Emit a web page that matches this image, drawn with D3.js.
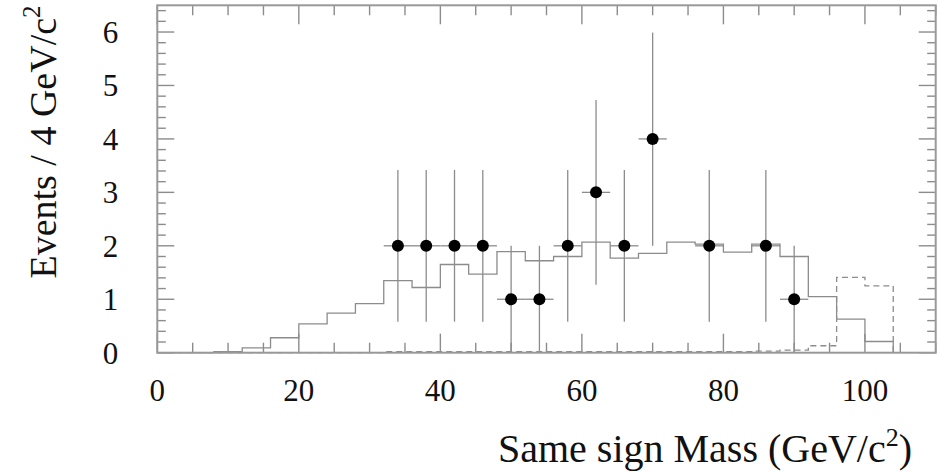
<!DOCTYPE html>
<html>
<head>
<meta charset="utf-8">
<script src="https://cdn.jsdelivr.net/npm/d3@7"></script>
<style>
  body { margin: 0; background: #fff; }
  text { font-family: "Liberation Serif", "DejaVu Serif", serif; fill: #111; }
</style>
</head>
<body>
<svg id="chart" width="941" height="473"></svg>
<script>
// data points (bin centres), counts and error bar limits
const massPoints = [34, 38, 42, 46, 50, 54, 58, 62, 66, 70, 78, 86, 90];
const counts     = [2, 2, 2, 2, 1, 1, 2, 3, 2, 4, 2, 2, 1];
const errLow     = [0.58, 0.58, 0.58, 0.58, 0, 0, 0.58, 1.27, 0.58, 2.0, 0.58, 0.58, 0];
const errHigh    = [3.42, 3.42, 3.42, 3.42, 2.0, 2.0, 3.42, 4.73, 3.42, 5.99, 3.42, 3.42, 2.0];

// 4 GeV bins starting at 0
const binEdges = d3.range(0, 108, 4);
const mcSolid  = [0, 0, 0.02, 0.09, 0.28, 0.54, 0.74, 0.92, 1.35, 1.22, 1.65, 1.47, 1.89,
                  1.72, 1.80, 2.07, 1.77, 1.86, 2.07, 2.03, 1.88, 2.03, 1.80, 1.05, 0.63, 0.21, 0];
const mcDashed = [0, 0, 0, 0, 0, 0, 0, 0, 0.02, 0.02, 0.02, 0.02, 0.02, 0.02, 0.02, 0.02,
                  0.02, 0.02, 0.02, 0.02, 0.02, 0.03, 0.05, 0.13, 1.41, 1.25, 0];

const xTicks = [0, 20, 40, 60, 80, 100];
const yTicks = [0, 1, 2, 3, 4, 5, 6];

const svg = d3.select("#chart"),
      margin = { top: 5.3, right: 5.3, bottom: 120.3, left: 157.3 },
      width = +svg.attr("width") - margin.left - margin.right,
      height = +svg.attr("height") - margin.top - margin.bottom;

const g = svg.append("g").attr("transform", `translate(${margin.left},${margin.top})`);

const x = d3.scaleLinear().domain([0, 110]).range([0, width]);
const y = d3.scaleLinear().domain([0, 6.5]).range([height, 0]);

const grey = "#8c8c8c";

// ticks on all four sides, pointing inward
const xMinor = d3.range(0, 111, 5);
const yMinor = d3.range(0, 6.5, 0.2);
const tickG = g.append("g").attr("stroke", grey).attr("stroke-width", 1.4);

xMinor.forEach(v => {
  const len = v % 20 === 0 ? 19 : 10;
  tickG.append("line").attr("x1", x(v)).attr("x2", x(v)).attr("y1", height).attr("y2", height - len);
  tickG.append("line").attr("x1", x(v)).attr("x2", x(v)).attr("y1", 0).attr("y2", len);
});
yMinor.forEach(v => {
  const major = Math.abs(v - Math.round(v)) < 1e-6;
  const len = major ? 17 : 8.5;
  tickG.append("line").attr("x1", 0).attr("x2", len).attr("y1", y(v)).attr("y2", y(v));
  tickG.append("line").attr("x1", width).attr("x2", width - len).attr("y1", y(v)).attr("y2", y(v));
});

// histograms
const step = d3.line()
  .x(d => x(d[0]))
  .y(d => y(d[1]))
  .curve(d3.curveStepAfter);

g.append("path")
  .datum(binEdges.map((e, i) => [e, mcDashed[i]]))
  .attr("d", step)
  .attr("fill", "none")
  .attr("stroke", grey)
  .attr("stroke-width", 1.3)
  .attr("stroke-dasharray", "6,4");

g.append("path")
  .datum(binEdges.map((e, i) => [e, mcSolid[i]]))
  .attr("d", step)
  .attr("fill", "none")
  .attr("stroke", grey)
  .attr("stroke-width", 1.3);

// error bars
const pts = massPoints.map((m, i) => ({ m, n: counts[i], lo: errLow[i], hi: errHigh[i] }));

g.selectAll(".vbar")
  .data(pts)
  .enter().append("line")
  .attr("class", "vbar")
  .attr("x1", d => x(d.m)).attr("x2", d => x(d.m))
  .attr("y1", d => y(d.lo)).attr("y2", d => y(d.hi))
  .attr("stroke", grey).attr("stroke-width", 1.3);

g.selectAll(".hbar")
  .data(pts)
  .enter().append("line")
  .attr("class", "hbar")
  .attr("x1", d => x(d.m - 2)).attr("x2", d => x(d.m + 2))
  .attr("y1", d => y(d.n)).attr("y2", d => y(d.n))
  .attr("stroke", grey).attr("stroke-width", 1.3);

g.selectAll(".dot")
  .data(pts)
  .enter().append("circle")
  .attr("class", "dot")
  .attr("cx", d => x(d.m))
  .attr("cy", d => y(d.n))
  .attr("r", 6)
  .attr("fill", "#000");

// frame
g.append("rect")
  .attr("width", width).attr("height", height)
  .attr("fill", "none")
  .attr("stroke", "#999").attr("stroke-width", 2);

// tick labels
g.selectAll(".xlab")
  .data(xTicks)
  .enter().append("text")
  .attr("x", d => x(d))
  .attr("y", height + 48)
  .attr("text-anchor", "middle")
  .style("font-size", "31px")
  .text(d => d);

g.selectAll(".ylab")
  .data(yTicks)
  .enter().append("text")
  .attr("x", -39)
  .attr("y", d => y(d) + 11)
  .attr("text-anchor", "end")
  .style("font-size", "31px")
  .text(d => d);

// axis titles
const xTitle = svg.append("text")
  .attr("x", 912)
  .attr("y", 462)
  .attr("text-anchor", "end")
  .style("font-size", "40px");
xTitle.append("tspan").text("Same sign Mass (GeV/c");
xTitle.append("tspan").attr("dy", -16).style("font-size", "26px").text("2");
xTitle.append("tspan").attr("dy", 16).text(")");

const yTitle = svg.append("text")
  .attr("transform", "translate(56,142) rotate(-90)")
  .attr("text-anchor", "middle")
  .style("font-size", "38px");
yTitle.append("tspan").text("Events / 4 GeV/c");
yTitle.append("tspan").attr("dy", -16).style("font-size", "25px").text("2");
</script>
</body>
</html>
